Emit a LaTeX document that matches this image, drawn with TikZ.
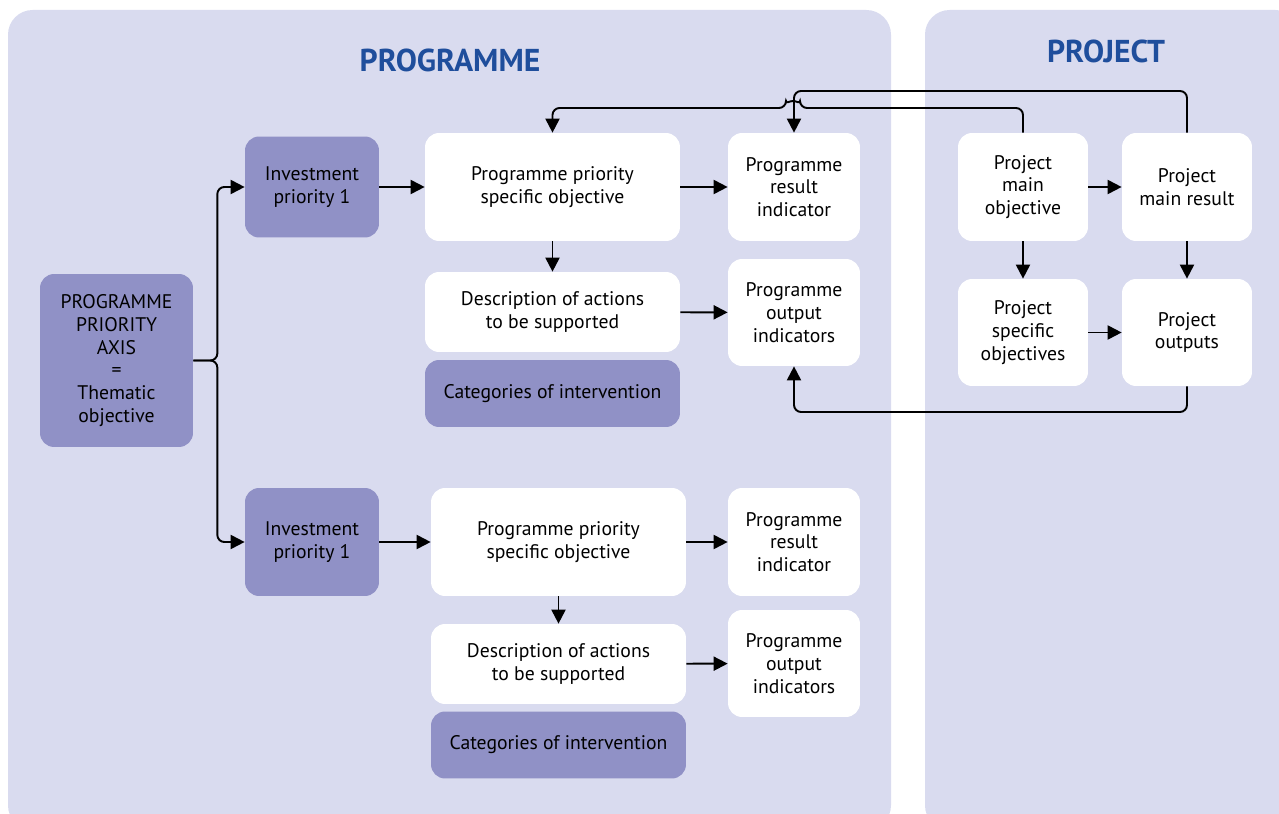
\documentclass[tikz,border=0pt]{standalone}
\usepackage{fontspec}
\setmainfont{PT Sans}
\usetikzlibrary{arrows.meta}
\definecolor{panelBg}{HTML}{D9DBEF}
\definecolor{boxDark}{HTML}{9091C6}
\definecolor{titleBlue}{HTML}{1F4E9C}
\begin{document}
\begin{tikzpicture}[>={Triangle[length=8pt,width=8pt]}, x=0.02cm, y=-0.02cm,
    panel/.style={fill=panelBg,rounded corners=14pt},
    box/.style={rectangle,rounded corners=8pt,fill=white,align=center,inner sep=2pt,font=\fontsize{11.2}{13}\selectfont},
    darkBox/.style={box,fill=boxDark},
    wideBox/.style={minimum width=5.1cm,minimum height=2.16cm},
    descBox/.style={minimum width=5.1cm,minimum height=1.6cm},
    catBox/.style={minimum width=5.1cm,minimum height=1.34cm},
    smallBox/.style={minimum width=2.64cm,minimum height=2.16cm},
    projBox/.style={minimum width=2.6cm,minimum height=2.16cm},
    title/.style={font=\fontsize{18}{20}\selectfont\bfseries,text=titleBlue},
    connection/.style={draw=black,line width=1.1pt,->,rounded corners=4pt},
]

	\def\rowA{187};
	\def\rowB{542};

	\useasboundingbox (0,0) rectangle (1279,814);
	\fill[panel] (8,10) rectangle (891,830);
	\fill[panel] (925,10) rectangle (1300,830);

	\node[title](tProg) at (450,60){PROGRAMME};
	\node[title](tProj) at (1106,51){PROJECT};

	\node[darkBox,minimum width=3.06cm,minimum height=3.46cm](axis) at (116.5,360.5){PROGRAMME\\PRIORITY\\AXIS\\=\\Thematic\\objective};

	% first investment priority
	\node[darkBox,minimum width=2.68cm,minimum height=2.02cm](ip1) at (312,\rowA){Investment\\priority 1};
	\node[box,wideBox](pso1) at (552.5,\rowA){Programme priority\\specific objective};
	\node[box,smallBox](pri1) at (794,\rowA){Programme\\result\\indicator};
	\node[box,descBox](desc1) at (552.5,312){Description of actions\\to be supported};
	\node[box,smallBox,minimum height=2.14cm](poi1) at (794,312.5){Programme\\output\\indicators};
	\node[darkBox,catBox](cat1) at (552.5,393.5){Categories of intervention};

	% second investment priority
	\node[darkBox,minimum width=2.68cm,minimum height=2.16cm](ip2) at (312,\rowB){Investment\\priority 1};
	\node[box,wideBox](pso2) at (558.5,\rowB){Programme priority\\specific objective};
	\node[box,smallBox](pri2) at (794,\rowB){Programme\\result\\indicator};
	\node[box,descBox](desc2) at (558.5,664){Description of actions\\to be supported};
	\node[box,smallBox,minimum height=2.14cm](poi2) at (794,663.5){Programme\\output\\indicators};
	\node[darkBox,catBox](cat2) at (558.5,745){Categories of intervention};

	% project
	\node[box,projBox](pmo) at (1023,\rowA){Project\\main\\objective};
	\node[box,projBox](pmr) at (1187,\rowA){Project\\main result};
	\node[box,projBox,minimum height=2.14cm](psp) at (1023,332.5){Project\\specific\\objectives};
	\node[box,projBox,minimum height=2.14cm](pout) at (1187,332.5){Project\\outputs};

	\draw[connection](axis.east)--++(24,0)|-(ip1.west);
	\draw[connection](axis.east)--++(24,0)|-(ip2.west);

	\draw[connection](ip1)--(pso1);
	\draw[connection](pso1)--(pri1);
	\draw[connection](pso1)--(desc1);
	\draw[connection](desc1)--(poi1);

	\draw[connection](ip2)--(pso2);
	\draw[connection](pso2)--(pri2);
	\draw[connection](pso2)--(desc2);
	\draw[connection](desc2)--(poi2);

	\draw[connection](pmo)--(pmr);
	\draw[connection](pmo)--(psp);
	\draw[connection](pmr)--(pout);
	\draw[connection](psp)--(pout);

	\draw[connection](pout.south)--(1187,412)-|(poi1.south);
	\draw[connection](pmr.north)--(1187,91)-|(pri1.north);
	\draw[connection](pmo.north)--(1023,108)--(800,108)arc[start angle=0,end angle=-180,radius=7]-|(pso1.north);

\end{tikzpicture}
\end{document}
